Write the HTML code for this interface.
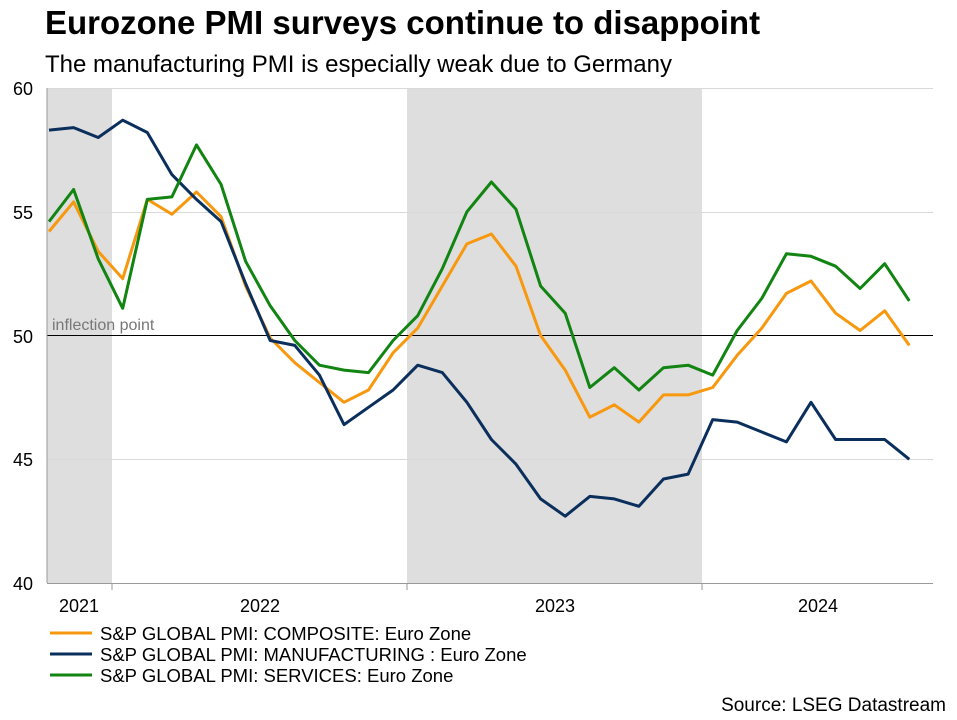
<!DOCTYPE html>
<html><head><meta charset="utf-8"><style>
body{margin:0;background:#fff;font-family:"Liberation Sans",Arial,sans-serif;}
</style></head><body>
<svg id="s" width="957" height="715" xmlns="http://www.w3.org/2000/svg" font-family="Liberation Sans, Arial, sans-serif">
<rect width="957" height="715" fill="#fff"/>
<text x="45" y="34" font-size="33" font-weight="bold" fill="#000">Eurozone PMI surveys continue to disappoint</text>
<text x="45" y="72" font-size="24" fill="#000">The manufacturing PMI is especially weak due to Germany</text>
<rect x="47" y="88" width="65" height="495" fill="#dedede"/>
<rect x="407" y="88" width="295" height="495" fill="#dedede"/>
<g stroke="#d9d9d9" stroke-width="1">
<line x1="47" y1="88.5" x2="933" y2="88.5"/>
<line x1="47" y1="212.5" x2="933" y2="212.5"/>
<line x1="47" y1="459.5" x2="933" y2="459.5"/>
</g>
<line x1="47" y1="335.5" x2="933" y2="335.5" stroke="#000" stroke-width="1"/>
<line x1="47" y1="88" x2="47" y2="583" stroke="#999"/>
<line x1="47" y1="583.5" x2="933" y2="583.5" stroke="#999"/>
<g stroke="#999"><line x1="112" y1="583" x2="112" y2="590"/><line x1="407" y1="583" x2="407" y2="590"/><line x1="702" y1="583" x2="702" y2="590"/></g>
<text x="52" y="330" font-size="16" fill="#777">inflection point</text>
<g font-size="18" fill="#000" text-anchor="end">
<text x="33" y="95">60</text><text x="33" y="219">55</text><text x="33" y="343">50</text><text x="33" y="466">45</text><text x="33" y="590">40</text>
</g>
<g font-size="18" fill="#000" text-anchor="middle">
<text x="79" y="612">2021</text><text x="260" y="612">2022</text><text x="555" y="612">2023</text><text x="818" y="612">2024</text>
</g>
<g id="lines" fill="none" stroke-width="3" stroke-linejoin="round"></g>
<line x1="50" y1="633" x2="92" y2="633" stroke="#f7980f" stroke-width="3"/>
<line x1="50" y1="654" x2="92" y2="654" stroke="#0b2f5c" stroke-width="3"/>
<line x1="50" y1="675" x2="92" y2="675" stroke="#118412" stroke-width="3"/>
<g font-size="18.5" fill="#000">
<text x="100" y="640">S&amp;P GLOBAL PMI: COMPOSITE: Euro Zone</text>
<text x="100" y="661">S&amp;P GLOBAL PMI: MANUFACTURING : Euro Zone</text>
<text x="100" y="682">S&amp;P GLOBAL PMI: SERVICES: Euro Zone</text>
</g>
<text x="946" y="711" font-size="19" text-anchor="end" fill="#000">Source: LSEG Datastream</text>
</svg>
<script>
var C=[54.2,55.4,53.4,52.3,55.5,54.9,55.8,54.8,52.0,49.9,48.9,48.1,47.3,47.8,49.3,50.3,52.0,53.7,54.1,52.8,50.0,48.6,46.7,47.2,46.5,47.6,47.6,47.9,49.2,50.3,51.7,52.2,50.9,50.2,51.0,49.6];
var M=[58.3,58.4,58.0,58.7,58.2,56.5,55.5,54.6,52.1,49.8,49.6,48.4,46.4,47.1,47.8,48.8,48.5,47.3,45.8,44.8,43.4,42.7,43.5,43.4,43.1,44.2,44.4,46.6,46.5,46.1,45.7,47.3,45.8,45.8,45.8,45.0];
var S=[54.6,55.9,53.1,51.1,55.5,55.6,57.7,56.1,53.0,51.2,49.8,48.8,48.6,48.5,49.8,50.8,52.7,55.0,56.2,55.1,52.0,50.9,47.9,48.7,47.8,48.7,48.8,48.4,50.2,51.5,53.3,53.2,52.8,51.9,52.9,51.4];
function pl(d,c){var p=d.map(function(v,i){return (49+24.58*i).toFixed(1)+","+(335.5-(v-50)*24.75).toFixed(1)}).join(" ");
var e=document.createElementNS("http://www.w3.org/2000/svg","polyline");e.setAttribute("points",p);e.setAttribute("stroke",c);document.getElementById("lines").appendChild(e);}
pl(C,"#f7980f");pl(M,"#0b2f5c");pl(S,"#118412");
</script>
</body></html>
